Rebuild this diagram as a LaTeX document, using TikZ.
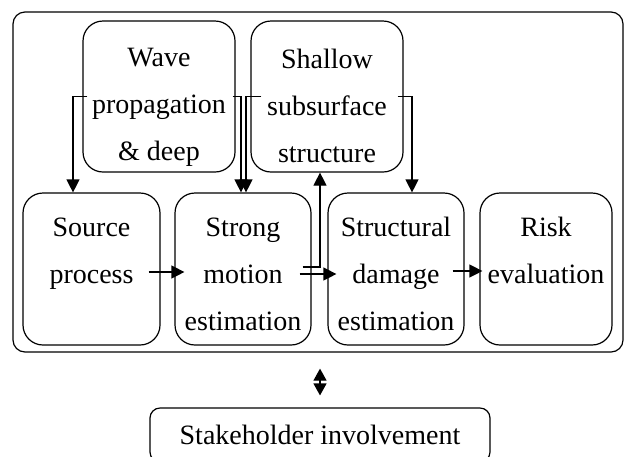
\documentclass[tikz,border=0pt]{standalone}
\usepackage{fontspec}
\setmainfont{Liberation Serif}
\usetikzlibrary{arrows.meta,calc}
\newcommand{\toppad}{\rule{0pt}{19.5pt}}
\newcommand{\botpad}{\rule{0pt}{14.5pt}}
\begin{document}
\begin{tikzpicture}[x=0.5pt,y=-0.5pt,
  txt/.style={font=\fontsize{14}{23.5}\selectfont, align=center, inner sep=0pt},
  box/.style={txt, draw, line width=0.6pt, rounded corners=10pt},
  arr/.style={line width=0.6pt, -{Triangle[length=6.5pt,width=6.5pt]}},
]
\clip (0,0) rectangle (624,456);
\node[draw, line width=0.6pt, rounded corners=6pt, minimum width=305pt, minimum height=170pt] (frame) at (318,182) {};
\node[box, minimum width=76pt, minimum height=75.5pt] (wave) at (159,96.5) {\toppad Wave\\propagation\\\&~deep};
\node[box, minimum width=76pt, minimum height=75.5pt] (shal) at (327,96.5) {\toppad Shallow\\subsurface\\structure};
\node[box, minimum width=68.5pt, minimum height=76pt] (src) at (91.5,269) {\botpad Source\\process\\\phantom{x}};
\node[box, minimum width=68pt, minimum height=76pt] (strong) at (243,269) {\botpad Strong\\motion\\estimation};
\node[box, minimum width=68pt, minimum height=76pt] (struct) at (396,269) {\botpad Structural\\damage\\estimation};
\node[box, minimum width=66pt, minimum height=76pt] (risk) at (546,269) {\botpad Risk\\evaluation\\\phantom{x}};
\node[box, rounded corners=5pt, minimum width=170pt, minimum height=27pt] (stake) at (320,435) {Stakeholder involvement};

\draw[arr] ([xshift=2.5pt]wave.west) -| (src.north -| 73,0);
\draw[arr] ([xshift=-1.5pt]wave.east) -| (strong.north -| 241,0);
\draw[arr] ([xshift=5.5pt]shal.west) -| (strong.north -| 246,0);
\draw[arr] ([xshift=-3pt]shal.east) -| (struct.north -| 412,0);
\draw[arr] ([xshift=-6pt,yshift=-1.5pt]src.east) -- ([xshift=5pt,yshift=-1.5pt]strong.west);
\draw[arr] ([xshift=-6pt,yshift=-2.5pt]strong.east) -- ([xshift=4.5pt,yshift=-2.5pt]struct.west);
\draw[arr] ([xshift=-4.5pt,yshift=1pt]strong.east) -| (shal.south -| 320,0);
\draw[arr] ([xshift=-6pt,yshift=-1pt]struct.east) -- ([xshift=1.5pt,yshift=-1pt]risk.west);
\draw[line width=0.6pt, {Triangle[length=6pt,width=6.5pt]}-{Triangle[length=6pt,width=6.5pt]}]
  ($(frame.south -| stake.north)+(0,16)$) -- ($(stake.north)+(0,-12)$);
\end{tikzpicture}
\end{document}
